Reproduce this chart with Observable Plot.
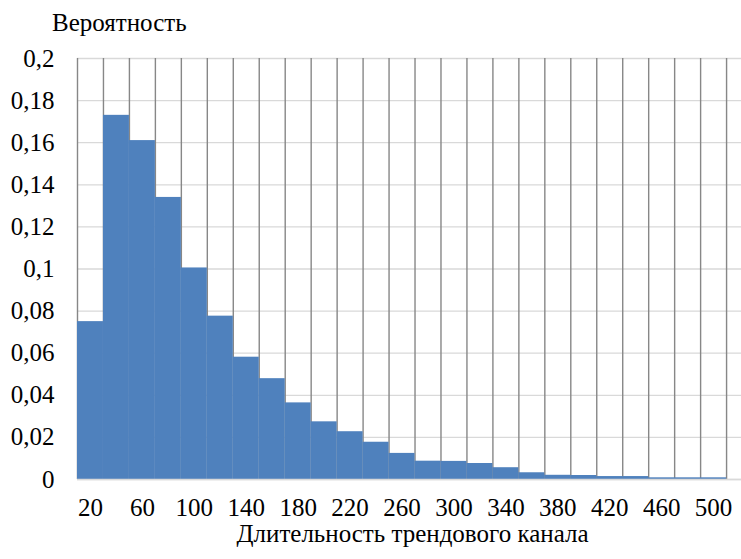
<!DOCTYPE html>
<html>
<head>
<meta charset="utf-8">
<script src="https://cdn.jsdelivr.net/npm/d3@7"></script>
<script src="https://cdn.jsdelivr.net/npm/@observablehq/plot@0.6"></script>
</head>
<body style="margin:0;background:white;font-family:'Liberation Serif'">
<div id="wrap" style="position:relative;width:741px;height:559px;font-family:'Liberation Serif';color:#000">
  <div id="ytitle" style="position:absolute;z-index:2;font-family:'Liberation Serif';font-size:25px;line-height:20px;white-space:nowrap;left:52px;top:13px;">Вероятность</div>
  <div id="xtitle" style="position:absolute;z-index:2;font-family:'Liberation Serif';font-size:25px;line-height:14px;white-space:nowrap;left:0;width:825px;text-align:center;top:527px;">Длительность трендового канала</div>
</div>
<script>
// Channel duration categories (bin centers)
const durations = [20, 40, 60, 80, 100, 120, 140, 160, 180, 200, 220, 240, 260, 280, 300, 320, 340, 360, 380, 400, 420, 440, 460, 480, 500];
// Probability per bin
const probabilities = [0.075, 0.173, 0.161, 0.134, 0.1005, 0.0776, 0.0581, 0.0479, 0.0364, 0.0274, 0.0227, 0.0177, 0.0124, 0.0087, 0.0086, 0.0076, 0.0056, 0.0032, 0.0020, 0.0019, 0.0014, 0.0014, 0.0008, 0.0008, 0.0008];
// Tick labels
const xTickLabels = [20, 60, 100, 140, 180, 220, 260, 300, 340, 380, 420, 460, 500];
const yTickValues = [0, 0.02, 0.04, 0.06, 0.08, 0.1, 0.12, 0.14, 0.16, 0.18, 0.2];

const FONT = "'Liberation Serif'";
const binWidth = 20;
const data = durations.map((d, i) => ({x1: d - binWidth / 2, x2: d + binWidth / 2, p: probabilities[i]}));
const edges = durations.map(d => d - binWidth / 2).concat([durations[durations.length - 1] + binWidth / 2]);

const chart = Plot.plot({
  width: 741,
  height: 559,
  marginTop: 58,
  marginBottom: 80,
  marginLeft: 77,
  marginRight: 0,
  style: {fontFamily: FONT, fontSize: "25px", color: "#000", background: "white"},
  x: {type: "linear", domain: [10, 521.5]},
  y: {domain: [0, 0.2]},
  marks: [
    Plot.gridY(yTickValues, {stroke: "#d9d9d9", strokeOpacity: 1, strokeWidth: 1.3}),
    Plot.ruleX(edges, {y1: 0, y2: 0.2, stroke: "#878787", strokeWidth: 1.4}),
    Plot.rectY(data, {x1: "x1", x2: "x2", y: "p", fill: "#4f81bd", inset: 0}),
    Plot.ruleY([0], {stroke: "#d9d9d9", strokeWidth: 1.3}),
    Plot.axisX(xTickLabels, {tickSize: 0, tickPadding: 19, tickFormat: d => String(d), label: null, fontSize: 25}),
    Plot.axisY(yTickValues, {tickSize: 0, tickPadding: 23, tickFormat: d => String(d).replace(".", ","), label: null, fontSize: 25})
  ]
});
chart.style.position = "absolute";
chart.style.left = "0";
chart.style.top = "0";
chart.style.zIndex = "1";
document.getElementById("wrap").prepend(chart);
</script>
</body>
</html>
